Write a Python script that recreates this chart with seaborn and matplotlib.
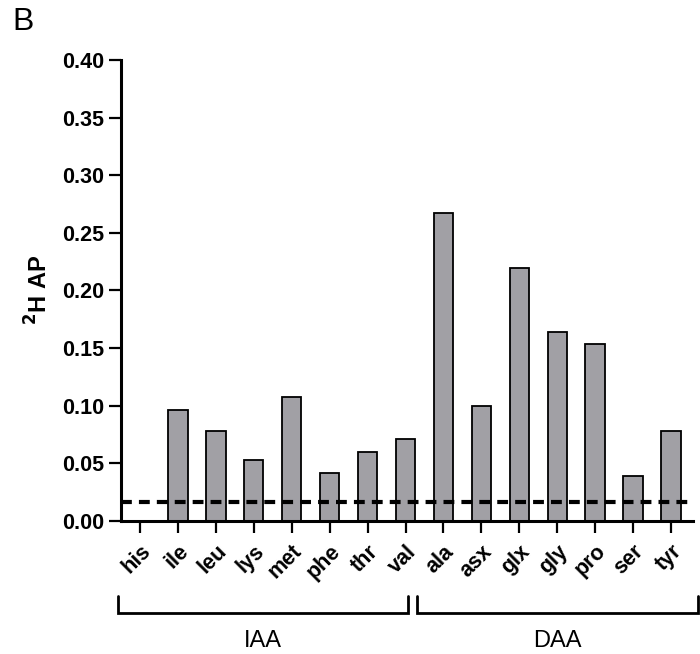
import matplotlib
matplotlib.use("Agg")
import matplotlib.pyplot as plt
import matplotlib.transforms as mtransforms
import seaborn as sns
import pandas as pd

# Deuterium atom percent per amino acid
amino_acids = ["his", "ile", "leu", "lys", "met", "phe", "thr", "val",
               "ala", "asx", "glx", "gly", "pro", "ser", "tyr"]
ap_values = [0.0, 0.096, 0.078, 0.053, 0.107, 0.041, 0.060, 0.071,
             0.267, 0.100, 0.219, 0.164, 0.153, 0.039, 0.078]
group_names = ["IAA", "DAA"]
group_sizes = [8, 7]
baseline = 0.016
y_ticks = [0.00, 0.05, 0.10, 0.15, 0.20, 0.25, 0.30, 0.35, 0.40]

sns.set_style("ticks")
plt.rcParams["font.family"] = ["Liberation Sans", "DejaVu Sans"]
plt.rcParams.update({"text.color": "black", "axes.labelcolor": "black",
                     "xtick.color": "black", "ytick.color": "black",
                     "axes.edgecolor": "black"})

df = pd.DataFrame({"aa": amino_acids, "ap": ap_values})

fig = plt.figure(figsize=(7.0, 6.54), dpi=100)
ax = fig.add_axes([0.1724, 0.2038, 0.8176, 0.7045])

sns.barplot(data=df, x="aa", y="ap", order=amino_acids, color="#a1a0a5",
            saturation=1, edgecolor="black", linewidth=1.3, width=0.51, ax=ax)

ax.axhline(baseline, color="black", linewidth=3.0, linestyle=(0, (2.6, 1.7)),
           zorder=5)

ax.set_xlim(-0.51, 14.58)
ax.set_ylim(0, 0.40)
ax.set_yticks(y_ticks)
ax.set_yticklabels([f"{v:.2f}" for v in y_ticks], fontsize=15.5, fontweight="bold")
ax.set_xlabel("")
ax.set_ylabel("$\\mathbf{^2}$H AP", fontsize=17, fontweight="bold", labelpad=7)

ax.set_xticks(range(len(amino_acids)))
ax.set_xticklabels(amino_acids, rotation=45, ha="right", va="top",
                   rotation_mode="anchor", fontsize=15.5, fontweight="bold")
shift = mtransforms.ScaledTranslation(4 / 100, -2 / 100, fig.dpi_scale_trans)
for lbl in ax.get_xticklabels():
    lbl.set_transform(lbl.get_transform() + shift)

for side in ("top", "right"):
    ax.spines[side].set_visible(False)
for side in ("left", "bottom"):
    ax.spines[side].set_linewidth(2.2)
ax.tick_params(axis="both", length=8.6, width=1.6, color="black")
ax.tick_params(axis="y", pad=3)
ax.tick_params(axis="x", pad=6)

# Group brackets below the tick labels
trans = mtransforms.blended_transform_factory(ax.transData, ax.transAxes)
spans = [(-0.58, 7.07), (7.31, 14.72)]
for name, (x0, x1) in zip(group_names, spans):
    ax.plot([x0, x0, x1, x1], [-0.163, -0.200, -0.200, -0.163], color="black",
            linewidth=2.0, transform=trans, clip_on=False, solid_joinstyle="miter")
    ax.text((x0 + x1) / 2, -0.261, name, transform=trans, ha="center",
            va="center", fontsize=17)

fig.text(0.017, 0.966, "B", fontsize=23, ha="left", va="center")

fig.savefig("out.png", dpi=100)
